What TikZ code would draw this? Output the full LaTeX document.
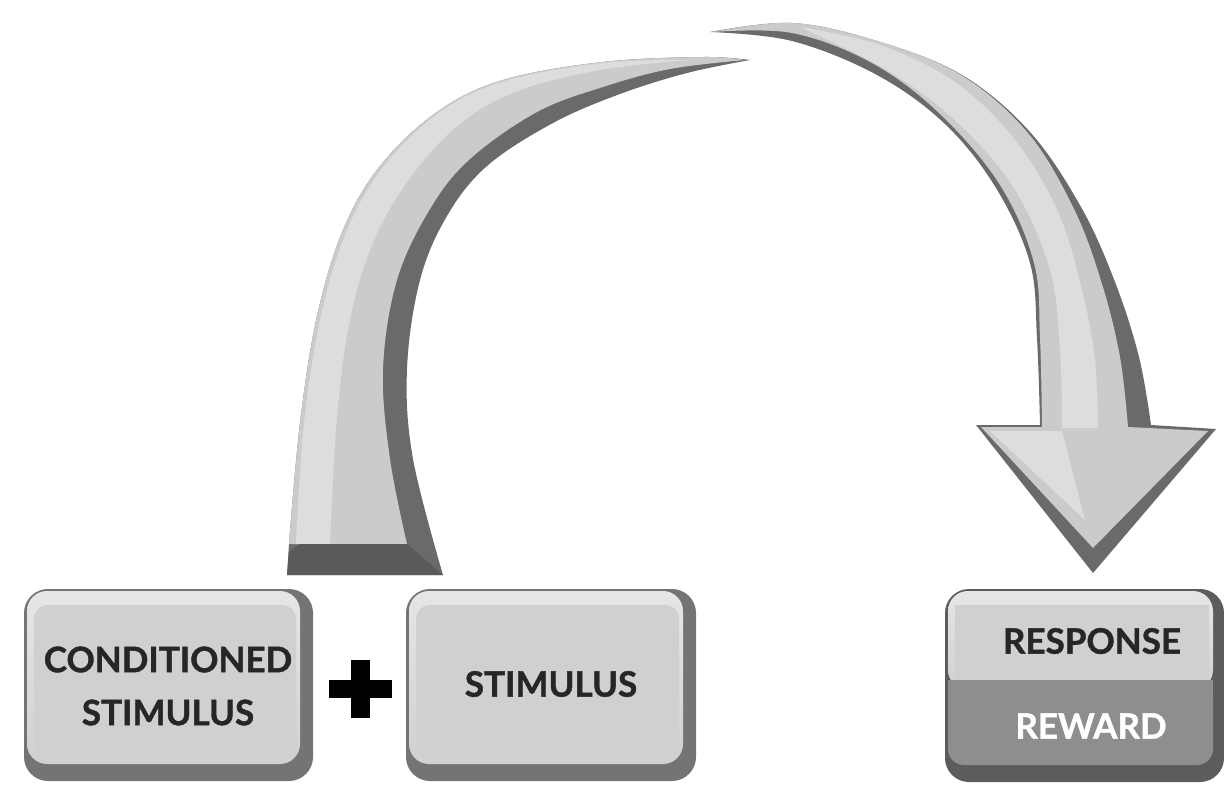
\documentclass[tikz,border=0pt]{standalone}
\usepackage{fontspec}
\setsansfont{Lato}[BoldFeatures={FakeBold=1.2}]
\definecolor{arrdark}{HTML}{6A6A6A}
\definecolor{arrlight}{HTML}{CBCBCB}
\definecolor{arrhi}{HTML}{DDDDDD}
\definecolor{boxdark}{HTML}{747474}
\definecolor{boxface}{HTML}{D0D0D0}
\definecolor{boxtop}{HTML}{E6E6E6}
\definecolor{rewdark}{HTML}{5C5C5C}
\definecolor{rewface}{HTML}{8E8E8E}
\definecolor{txt}{HTML}{262626}
\tikzset{
  lbl/.style={font=\sffamily\bfseries\fontsize{35}{53}\selectfont, text=txt, align=center, inner sep=0pt},
  rewlbl/.style={lbl, text=white},
}
\begin{document}
\begin{tikzpicture}[x=1pt,y=-1pt]
\useasboundingbox[fill=white] (0,0) rectangle (1224,787);

% ---------- left arc arrow ----------
\fill[arrdark] plot[smooth,tension=0.6] coordinates {(289,544) (300,423) (317,316) (343,230) (380,166) (437,112) (503,80) (603,62) (703,57) (750,60)}
  -- plot[smooth,tension=0.6] coordinates {(750,60) (687,73) (620,94) (553,123) (487,166) (447,216) (420,280) (407,369) (413,459) (443,575)}
  -- (287,575) -- cycle;
\fill[arrlight] plot[smooth,tension=0.6] coordinates {(289,544) (300,423) (317,316) (343,230) (380,166) (437,112) (503,80) (603,62) (703,57) (745,60)}
  -- plot[smooth,tension=0.6] coordinates {(745,60) (670,69) (603,87) (537,112) (470,159) (430,209) (397,280) (383,369) (390,459) (407,544)}
  -- cycle;
\fill[arrhi] plot[smooth,tension=0.6] coordinates {(296,544) (304,423) (321,316) (347,230) (384,166) (440,112) (505,81) (603,63) (690,60)}
  -- plot[smooth,tension=0.6] coordinates {(690,60) (600,70) (515,92) (455,128) (405,185) (370,250) (348,330) (336,430) (330,544)}
  -- cycle;
\fill[arrdark!85!black] (287,575) -- (289,552) -- (300,544) -- (407,544) -- (443,575) -- cycle;

% ---------- right arc arrow ----------
\fill[arrdark] plot[smooth,tension=0.6] coordinates {(710,32) (792,23) (877,41) (962,75) (1030,132) (1081,207) (1115,282) (1139,357) (1151,425)}
  -- (1216,429) -- (1093,573) -- (976,425) -- (1040,425)
  -- plot[smooth,tension=0.6] coordinates {(1040,425) (1037,338) (1030,263) (996,188) (945,124) (877,75) (792,41) (710,32)} -- cycle;
\fill[arrlight] plot[smooth,tension=0.6] coordinates {(712,32) (792,23) (877,41) (961,75) (1028,133) (1074,209) (1102,284) (1120,357) (1128,427)}
  -- (1208,431) -- (1093,548) -- (981,427) -- (1042,427)
  -- plot[smooth,tension=0.6] coordinates {(1042,427) (1040,338) (1034,263) (1000,185) (940,114) (872,63) (792,33) (712,32)} -- cycle;
\fill[arrhi] plot[smooth,tension=0.6] coordinates {(800,27) (880,45) (955,82) (1015,140) (1058,212) (1082,290) (1095,360) (1098,428)}
  -- (1062,428)
  -- plot[smooth,tension=0.6] coordinates {(1062,428) (1060,350) (1050,270) (1015,190) (960,125) (890,72) (800,27)} -- cycle;
\fill[arrhi] (990,431) -- (1062,431) -- (1085,520) -- cycle;

% ---------- box 1 ----------
\fill[boxdark, rounded corners=24] (24,589) rectangle (313,781);
\shade[top color=boxtop, bottom color=boxface, rounded corners=20] (27,591) rectangle (300,764);
\fill[boxface, rounded corners=14] (34,605) rectangle (296,758);
\node[lbl] (cs) at (168,686) {CONDITIONED\\STIMULUS};

% ---------- plus ----------
\fill[black] (351,660) rectangle (370,718);
\fill[black] (329,680) rectangle (392,698);
\node[inner sep=0pt] (plus) at (360,689) {};

% ---------- box 2 ----------
\fill[boxdark, rounded corners=24] (406,589) rectangle (696,781);
\shade[top color=boxtop, bottom color=boxface, rounded corners=20] (409,591) rectangle (683,764);
\fill[boxface, rounded corners=14] (416,605) rectangle (679,758);
\node[lbl] (st) at (551,684) {STIMULUS};

% ---------- box 3 ----------
\fill[rewdark, rounded corners=24] (945,589) rectangle (1224,782);
\shade[top color=boxtop, bottom color=boxface, rounded corners=20] (948,591) rectangle (1213,690);
\fill[boxface] (955,605) rectangle (1209,680);
\fill[rewface, rounded corners=16] (948,680) rectangle (1213,765);
\fill[rewface] (948,680) rectangle (1213,700);
\node[lbl] (resp) at (1092,641) {RESPONSE};
\node[rewlbl] (rew) at (1091,726) {REWARD};
\end{tikzpicture}
\end{document}
